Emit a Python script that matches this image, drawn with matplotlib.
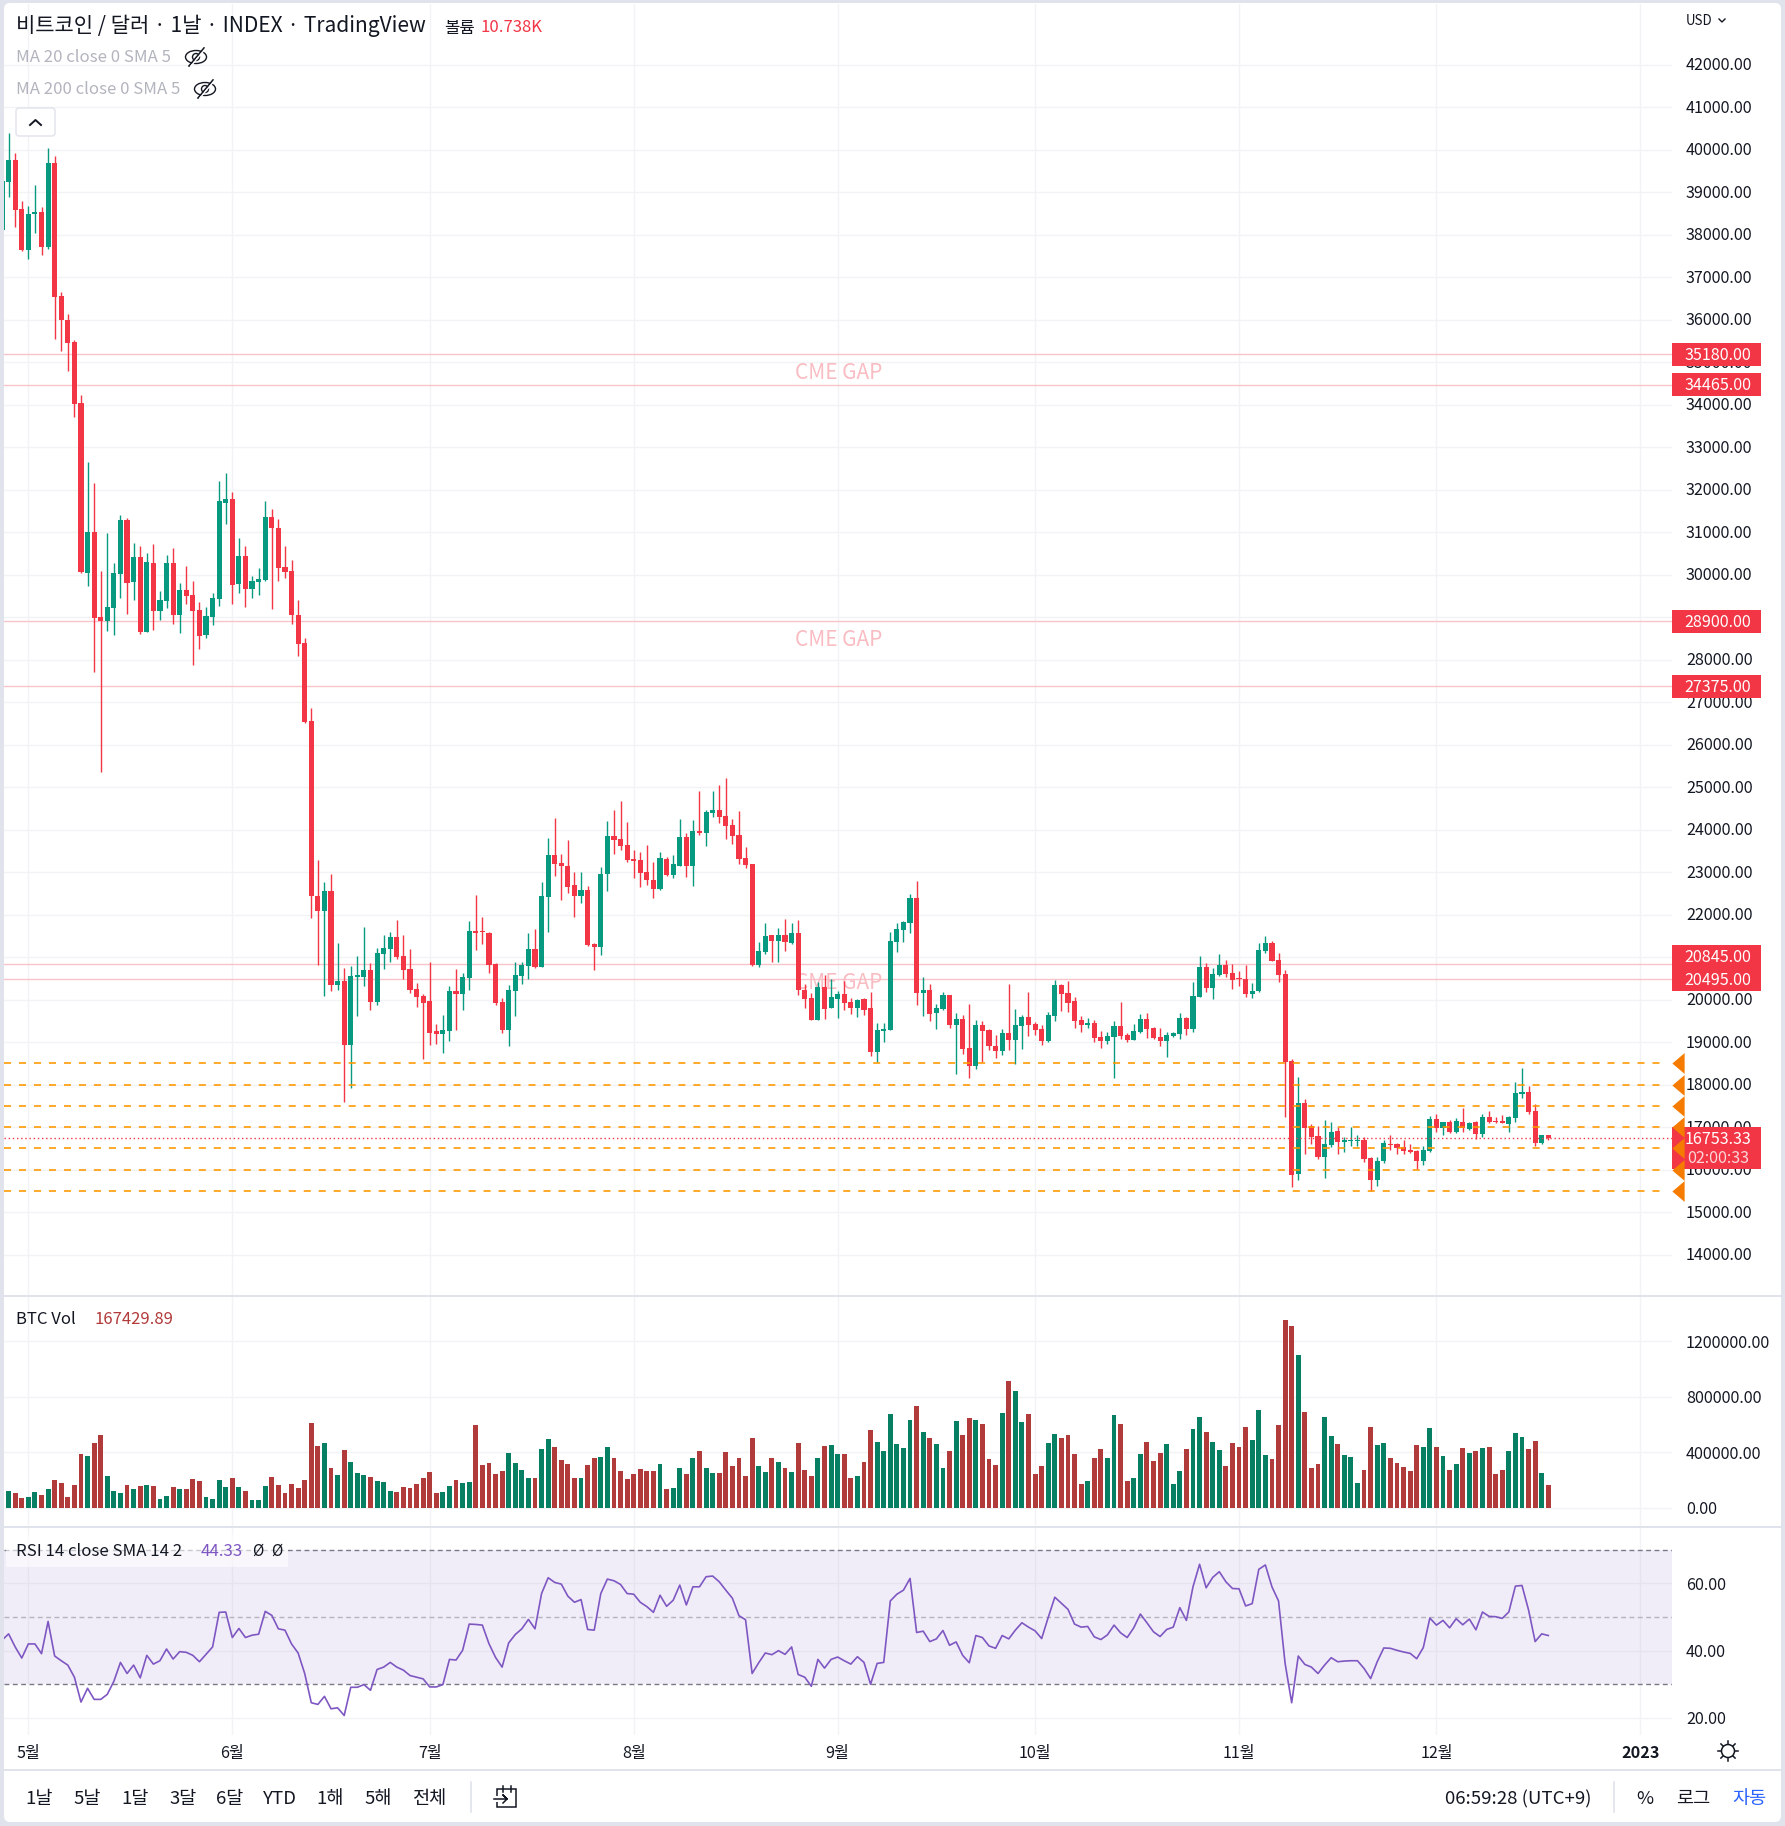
import numpy as np
import matplotlib
matplotlib.use("Agg")
import matplotlib.pyplot as plt
from matplotlib.patches import Rectangle, FancyBboxPatch, Ellipse, Circle
from matplotlib.transforms import ScaledTranslation

plt.rcParams['font.family'] = ['Noto Sans CJK KR', 'DejaVu Sans']

# daily candles, first one is 27 Apr 2022, day 0 = 1 May
days = np.arange(-4, 232)

opens = [38118,39247,39765,38612,37647,38480,38520,37718,39694,36565,
36000,35482,34047,30047,31012,29012,28918,29223,30024,31294,
29835,30424,28659,30282,29153,29388,30282,29059,29647,29530,
29177,28588,29012,29435,31694,31788,29788,30447,29671,29835,
29882,31365,31106,30188,30094,29059,28400,26565,22448,22095,
22565,20353,20447,18942,20541,20541,20706,19953,21083,21200,
21483,21036,20730,20259,20095,19977,19271,19200,19271,20212,
20142,20518,21624,21600,21577,20848,19953,19295,20212,20565,
20800,21200,20777,22424,23412,23224,23153,22706,22448,22589,
21318,21248,22965,23859,23788,23648,23318,23295,23012,22824,
22612,23318,22942,23153,23836,23153,23977,23930,24400,24471,
24330,24118,23883,23342,23200,20824,21130,21530,21389,21530,
21341,21576,20235,20047,19529,20305,19811,20023,20141,19952,
19811,20023,19811,18776,19270,19294,21364,21647,21811,22399,
20164,20235,19694,19788,20117,19411,19552,18870,18447,19411,
19294,18917,18800,19223,19058,19388,19600,19435,19317,19035,
19623,20352,20164,19976,19529,19411,19458,19129,19035,19129,
19388,19176,19058,19246,19552,19341,19129,19035,19152,19200,
19576,19317,20070,20776,20282,20588,20823,20635,20494,20494,
20141,20196,21138,21326,20926,20596,18549,15891,17561,17020,
16785,16291,16573,16902,16644,16667,16667,16691,16267,15749,
16197,16597,16597,16526,16455,16432,16197,16432,17185,16973,
17114,16879,17114,16949,17114,16832,17232,17138,17138,17067,
17208,17773,17820,17373,16620,16808]

highs = [39300,40400,39929,38800,38682,39177,38659,40047,39859,36659,
36141,35530,34235,32659,32165,30094,30988,30282,31412,31320,
30753,30682,30518,30729,29624,30471,30635,29812,30212,29859,
29365,29247,29576,32212,32400,31953,30870,30682,29976,30165,
31741,31553,31318,30682,30353,29412,28518,26871,23295,22777,
22965,21342,20753,20800,21036,21718,20871,21224,21530,21600,
21883,21530,21200,20400,20142,20895,19436,19648,20330,20730,
20636,21859,22471,21953,21600,20871,20048,20353,20895,20895,
21577,21671,22777,23812,24283,23436,23765,23012,23012,22683,
21342,23130,24212,24471,24683,24189,23530,23483,23648,23248,
23483,23365,23412,24259,23930,24236,24918,24471,24918,25059,
25224,24259,24448,23600,23200,21365,21812,21530,21695,21906,
21811,21882,20376,20164,20423,20588,20494,20211,20447,20047,
20023,20047,20188,19458,19458,21599,21811,21858,22494,22799,
20541,20376,19905,20188,20117,19694,19647,19905,19529,19505,
19317,19176,19317,20376,19788,19647,20188,19482,19411,19717,
20470,20376,20447,20070,19623,19576,19529,19270,19246,19505,
19952,19223,19435,19670,19694,19364,19341,19246,19246,19694,
19600,20423,21035,20870,20752,21082,20941,20846,20682,20823,
20400,21326,21491,21373,21091,20691,18596,18173,17655,17067,
17020,17161,17114,16997,16761,16997,16808,16761,16291,16291,
16691,16808,16620,16691,16597,16455,16550,17255,17302,17125,
17161,17208,17444,17114,17138,17302,17373,17232,17279,17255,
18055,18385,17961,17538,16820,16820]

lows = [38100,38878,38173,37608,37420,38047,37530,37671,35553,35271,
34800,33717,30047,29741,27718,25365,28682,28588,29459,29082,
29412,28612,28659,28706,28941,29224,28847,28635,29318,27882,
28259,28518,28824,29271,31200,29318,29576,29247,29459,29529,
29859,29200,29859,29929,28847,28094,26518,21930,20824,20095,
20212,20236,17600,17930,19624,20330,19765,19883,20730,20894,
20965,20495,20165,19836,18612,18942,18965,18754,19036,19295,
19765,20236,21177,21318,20636,19883,19224,18918,19624,20377,
20495,20754,20760,21600,22918,22354,22518,21953,22283,21271,
20706,21060,22565,23436,23530,23248,22871,22659,22706,22400,
22589,22918,22871,23140,22895,22683,23883,23624,24306,24165,
23789,23671,23200,23106,20800,20777,21083,20895,20895,21153,
21317,20117,19811,19529,19510,19552,19800,19576,19764,19670,
19600,19647,18682,18541,19011,19280,21129,21364,21576,19882,
19623,19505,19317,19764,19341,18258,18729,18164,18376,18541,
18823,18635,18705,18823,18494,18847,19152,19176,18941,19011,
19505,19741,19717,19341,19246,19341,19011,18870,18964,18164,
19082,19011,19050,19223,19105,19082,18917,18658,19129,19082,
19176,19246,20060,20188,20023,20564,20541,20258,20329,20070,
20047,20180,21091,20900,20408,17232,15585,15749,16361,16597,
16244,15797,16526,16361,16408,16550,16550,16173,15491,15608,
16150,16455,16361,16361,16400,16008,16102,16420,16879,16808,
16870,16870,16879,16926,16714,16761,17091,17105,17085,16879,
17114,17679,17302,16550,16597,16691]

closes = [39271,39765,38588,37639,38494,38520,37718,39694,36541,36000,
35459,34024,30071,31012,28988,28918,29247,30047,31294,29812,
30424,28659,30306,29153,29412,30282,29059,29647,29506,29153,
28565,29035,29459,31741,31788,29765,30447,29671,29859,29906,
31365,31106,30165,30071,29059,28376,26541,22448,22095,22565,
20353,20447,18942,20565,20565,20706,19953,21106,21224,21483,
21012,20706,20236,20071,19930,19224,19200,19295,20212,20142,
20542,21624,21577,21585,20824,19930,19295,20236,20589,20824,
21200,20777,22448,23412,23200,23153,22659,22448,22589,21295,
21248,22965,23859,23765,23624,23295,23271,22989,22824,22612,
23342,22942,23200,23836,23153,23977,23930,24424,24471,24306,
24095,23859,23318,23177,20824,21153,21507,21389,21530,21365,
21576,20235,20023,19529,20305,19788,20070,20141,19929,19811,
20000,19764,18776,19294,19317,21388,21670,21835,22399,20164,
20235,19670,19811,20117,19411,19552,18846,18447,19411,19270,
18917,18800,19223,19058,19411,19600,19411,19294,19035,19647,
20352,20141,19929,19505,19411,19458,19105,19035,19152,19388,
19152,19058,19270,19552,19317,19105,19035,19176,19223,19576,
19317,20094,20776,20282,20611,20823,20611,20470,20478,20141,
20211,21161,21326,20902,20573,18526,15867,17561,16973,16761,
16291,16596,16879,16644,16691,16691,16691,16244,15749,16197,
16620,16573,16502,16432,16408,16197,16455,17185,16973,17114,
16879,17138,16973,17091,16832,17232,17114,17114,17091,17232,
17796,17820,17349,16620,16808,16753]

# volume in thousands
volume = [137,122,108,72,79,115,94,137,202,180,
79,166,389,374,468,526,230,122,108,166,
137,158,166,158,65,86,151,137,137,209,
194,79,65,202,151,216,151,122,58,58,
158,223,166,108,173,144,202,612,446,468,
288,238,418,331,252,238,223,194,187,122,
115,151,144,173,216,259,108,115,158,202,
180,187,598,310,324,245,266,396,324,274,
216,216,425,497,439,346,317,216,216,310,
360,367,439,360,266,209,245,281,266,266,
317,137,144,288,245,360,410,288,252,252,
403,302,360,230,504,302,259,360,331,288,
259,468,274,230,360,446,454,389,389,216,
230,331,562,475,410,677,461,432,634,734,
547,504,461,288,410,626,526,648,634,605,
353,310,684,914,842,619,677,245,302,468,
533,504,526,389,173,194,360,425,360,670,
605,194,216,389,475,338,396,461,173,266,
425,569,655,547,475,418,302,468,439,583,
490,706,382,353,598,1354,1310,1102,691,288,
317,655,518,461,382,367,180,274,583,454,
468,360,324,295,266,454,439,576,439,374,
274,317,432,396,410,432,439,245,274,410,
540,511,425,482,252,167]

rsi = [43.1,45.0,41.1,37.8,42.0,42.0,39.1,48.7,38.4,37.0,35.7,32.1,24.7,28.8,25.5,25.5,27.0,30.9,36.5,33.2,
35.7,31.9,38.6,36.0,37.0,40.5,37.5,39.7,39.5,38.6,36.7,38.9,41.1,51.4,51.5,43.9,46.6,43.9,44.6,44.9,
51.7,50.5,46.5,46.1,42.0,39.3,33.2,24.5,24.0,26.4,22.7,23.0,20.7,29.1,29.1,29.9,28.2,34.4,35.1,36.5,
35.1,34.2,32.6,32.1,31.6,29.2,29.2,29.9,37.4,37.2,40.1,47.9,47.8,47.6,42.1,38.0,35.1,42.3,44.8,46.5,
49.3,46.5,57.0,61.7,60.3,59.8,56.2,54.4,55.2,46.3,46.1,57.0,61.3,60.8,59.7,57.0,56.8,54.4,53.1,51.4,
56.5,53.2,55.0,59.5,53.6,59.0,59.0,62.0,62.2,60.5,58.0,55.6,50.4,49.2,33.2,36.4,39.3,38.8,40.0,38.9,
41.1,32.9,
32.1,29.4,37.4,34.8,37.4,38.1,37.0,36.0,38.2,36.5,30.0,36.2,36.5,54.8,56.8,58.0,61.5,45.4,45.8,42.7,
43.5,46.0,41.6,42.6,38.6,36.4,44.5,43.9,41.4,40.7,44.5,43.5,46.1,48.3,47.0,45.9,43.6,49.9,55.9,54.1,
52.3,47.9,47.0,47.2,44.1,43.3,44.7,47.6,45.3,43.9,46.8,50.9,48.3,45.6,44.2,46.3,47.0,52.8,49.0,59.0,
65.7,58.7,61.8,63.5,60.5,58.5,58.4,53.3,54.0,64.2,65.5,59.0,54.8,36.2,24.5,38.4,35.9,35.1,33.2,35.7,
37.9,36.7,36.9,37.0,37.0,34.7,31.7,36.7,40.8,40.7,40.1,39.6,39.2,37.6,40.9,49.7,47.6,49.0,46.8,49.5,
47.7,49.4,46.2,51.5,50.2,50.1,49.6,51.5,59.2,59.4,52.1,42.7,45.0,44.5]

gap_levels = [35180, 34465, 28900, 27375, 20845, 20495]
tag_prices = [35180, 34465, 28900, 27375, 21023, 20483]   # two lowest tags get pushed apart
gap_text_prices = [34740, 28460, 20380]
orange_levels = [18500, 18000, 17500, 17000, 16500, 16000, 15500]
last_price = 16753.33

price_ticks = list(range(14000, 43000, 1000))
vol_ticks = [0, 400000, 800000, 1200000]
rsi_ticks = [20, 40, 60]
month_days = [0, 31, 61, 92, 123, 153, 184, 214, 245]
month_labels = ['5월', '6월', '7월', '8월', '9월', '10월', '11월', '12월', '2023']

UP = '#089981'
DOWN = '#f23645'
GRID = '#f2f3f6'
BORDER = '#e0e3eb'
TEXT = '#131722'
W, H = 1785, 1826

fig = plt.figure(figsize=(W/100, H/100), dpi=100, facecolor=BORDER)


def pane(x0, y0, x1, y1, z=1):
    a = fig.add_axes([x0/W, 1-y1/H, (x1-x0)/W, (y1-y0)/H], zorder=z)
    return a


bg = pane(0, 0, W, H, z=0)
bg.set_xlim(0, W)
bg.set_ylim(H, 0)
bg.axis('off')
bg.add_patch(FancyBboxPatch((8, 7), W-8-8, H-7-8, boxstyle='round,pad=4,rounding_size=6', fc='white', ec='none'))

ax = pane(4, 3.6, 1672, 1296.6)
axv = pane(4, 1297, 1672, 1527)
axr = pane(4, 1528, 1672, 1735)

xlim = (-3.7, 249.8)
for a in (ax, axv, axr):
    a.set_facecolor('none')
    a.set_xlim(*xlim)
    a.set_xticks(month_days)
    a.grid(True, color=GRID, lw=1.0)
    a.set_axisbelow(True)
    a.yaxis.tick_right()
    a.tick_params(length=0, labelsize=11.6, labelcolor=TEXT, pad=10, bottom=False)
    for s in a.spines.values():
        s.set_visible(False)
ax.tick_params(labelbottom=False)
axv.tick_params(labelbottom=False)

# price pane
opens, highs, lows, closes = map(np.array, (opens, highs, lows, closes))
up = closes >= opens
colors = np.where(up, UP, DOWN)
ax.set_ylim(13011, 43435)
ax.set_yticks(price_ticks)
ax.set_yticklabels([f'{p}.00' for p in price_ticks])
nudge = ScaledTranslation(0, 1/100, fig.dpi_scale_trans)
for lbl in ax.get_yticklabels():
    lbl.set_transform(lbl.get_transform() + nudge)

for lvl in gap_levels:
    ax.axhline(lvl, color='#f9c4c9', lw=1.0, zorder=1.6)
for p in gap_text_prices:
    ax.text(123.1, p, 'CME GAP', color='#f9bcc2', fontsize=15, ha='center', va='center', zorder=1.7)

ax.vlines(days, lows, highs, colors=colors, lw=1.0, zorder=2)
ax.bar(days, np.maximum(np.abs(closes-opens), 30), bottom=np.minimum(opens, closes), width=0.78, color=colors, zorder=2.1)

ax.hlines(orange_levels, xlim[0], 249.0, colors='#ff9800', lw=1.3, linestyles=[(0, (3.9, 4.4))], alpha=0.9, zorder=2.3)
ax.axhline(last_price, color=DOWN, lw=1, ls=(0, (1, 2)), zorder=2.2)

# price tags sit on the axis, over the tick labels
yt = ax.get_yaxis_transform()
tag_w = 89/1668
tag_h = 23*23.53
for lvl, pos in zip(gap_levels, tag_prices):
    ax.add_patch(Rectangle((1.0, pos-tag_h/2), tag_w, tag_h, transform=yt, fc=DOWN, ec='none', clip_on=False, zorder=4))
    ax.text(1+46/1668, pos-25, f'{lvl}.00', transform=yt, color='white', fontsize=11.6, ha='center', va='center', zorder=5, clip_on=False)
ax.add_patch(Rectangle((1.0, 16022), tag_w, 989, transform=yt, fc=DOWN, ec='none', clip_on=False, zorder=4))
ax.text(1+46/1668, 16715, f'{last_price:.2f}', transform=yt, color='white', fontsize=11.6, ha='center', va='center', zorder=5)
ax.text(1+46/1668, 16270, '02:00:33', transform=yt, color='#fbd5d9', fontsize=11.6, ha='center', va='center', zorder=5)
ax.plot([1+6/1668]*len(orange_levels), orange_levels, transform=yt, ls='none',
        marker=[(1, -1.7), (1, 1.7), (-1, 0)], ms=15, color='#f57c00', mew=0, clip_on=False, zorder=6)

# volume pane
axv.bar(days, np.array(volume)*1000, width=0.74, color=np.where(up, '#067f62', '#b13a3a'), zorder=2)
axv.set_ylim(-137000, 1519000)
axv.set_yticks(vol_ticks)
axv.set_yticklabels([f'{v}.00' for v in vol_ticks])

# rsi pane
axr.set_ylim(14.9, 76.5)
axr.set_yticks(rsi_ticks)
axr.set_yticklabels([f'{v}.00' for v in rsi_ticks])
axr.axhspan(30, 70, color='#7e57c2', alpha=0.1, lw=0, zorder=1)
for lvl, c in ((70, '#787b86'), (50, '#b5b3bf'), (30, '#787b86')):
    axr.axhline(lvl, color=c, lw=1, ls=(0, (3.5, 2.5)), zorder=1.8)
axr.plot(days, rsi, color='#7e57c2', lw=1.2, zorder=3)
axr.set_xticks(month_days)
axr.set_xticklabels(month_labels)
axr.tick_params(axis='x', pad=7, labelsize=11.6, labelbottom=True, labeltop=False, labelcolor=TEXT)
axr.get_xticklabels()[-1].set_fontweight('bold')

# chrome drawn in pixel coordinates
top = pane(0, 0, W, H, z=5)
top.set_xlim(0, W)
top.set_ylim(H, 0)
top.axis('off')
top.patch.set_alpha(0)

for y in (1296.5, 1527.5, 1770):
    top.plot([4, 1782], [y, y], color=BORDER, lw=1.4)

top.text(16, 26, '비트코인 / 달러 · 1날 · INDEX · TradingView', fontsize=15.1, color=TEXT, va='center')
top.text(444, 28, '볼륨', fontsize=12, color=TEXT, va='center')
top.text(480, 28, '10.738K', fontsize=12, color=DOWN, va='center')
top.text(16, 58, 'MA 20 close 0 SMA 5', fontsize=12.1, color='#b2b5be', va='center')
top.text(16, 90, 'MA 200 close 0 SMA 5', fontsize=12.1, color='#b2b5be', va='center')


def eye(x, y):
    top.add_patch(Ellipse((x, y), 21, 13, fc='none', ec=TEXT, lw=1))
    top.add_patch(Circle((x, y), 3.5, fc='none', ec=TEXT, lw=1))
    top.plot([x-7, x+8], [y+9, y-9], color=TEXT, lw=1.2)
    top.plot([x-5, x+10], [y+9, y-9], color='white', lw=1)


eye(196, 57)
eye(205, 89)
top.add_patch(FancyBboxPatch((18, 110), 35, 24, boxstyle='round,pad=2,rounding_size=3', fc='white', ec=BORDER, lw=1))
top.plot([30, 35.5, 41], [125, 120, 125], color=TEXT, lw=1.4)

top.text(1686, 21, 'USD', fontsize=9.6, color=TEXT, va='center')
top.plot([1719, 1722, 1725], [19, 22, 19], color=TEXT, lw=1)

top.text(16, 1320, 'BTC Vol', fontsize=12, color=TEXT, va='center')
top.text(94, 1320, '167429.89', fontsize=12, color='#b23a3a', va='center')

top.add_patch(Rectangle((6, 1535), 282, 32, fc='white', alpha=0.6, ec='none'))
top.text(16, 1551, 'RSI 14 close SMA 14 2', fontsize=12.1, color=TEXT, va='center')
top.text(201, 1551, '44.33', fontsize=12.1, color='#7e57c2', va='center')
top.text(258, 1551, 'Ø', fontsize=11, color=TEXT, va='center', ha='center')
top.text(277, 1551, 'Ø', fontsize=11, color=TEXT, va='center', ha='center')

# sun icon next to the date axis
top.add_patch(Circle((1728, 1751), 6.5, fc='none', ec=TEXT, lw=1.1))
for t in np.arange(8)*np.pi/4:
    top.plot([1728+7*np.cos(t), 1728+10*np.cos(t)], [1751+7*np.sin(t), 1751+10*np.sin(t)], color=TEXT, lw=1.1)

buttons = ['1날', '5날', '1달', '3달', '6달', 'YTD', '1해', '5해', '전체']
button_x = [39, 87, 135, 183, 230, 280, 330, 378, 430]
for s, x in zip(buttons, button_x):
    top.text(x, 1799, s, fontsize=13.4, color=TEXT, ha='center', va='center')
top.plot([471, 471], [1782, 1812], color=BORDER, lw=1.2)
top.add_patch(Rectangle((497, 1789), 19, 18, fc='none', ec=TEXT, lw=1.1))
top.plot([503, 503], [1786, 1792], color=TEXT, lw=1.1)
top.plot([511, 511], [1786, 1792], color=TEXT, lw=1.1)
top.add_patch(Rectangle((490, 1796), 12, 6, fc='white', ec='none'))
top.plot([494, 507, 503, 507, 503], [1799, 1799, 1795, 1799, 1803], color=TEXT, lw=1.1)

top.text(1518, 1799, '06:59:28 (UTC+9)', fontsize=13.4, color=TEXT, ha='center', va='center')
top.plot([1614, 1614], [1782, 1812], color=BORDER, lw=1.2)
top.text(1645, 1799, '%', fontsize=13.4, color=TEXT, ha='center', va='center')
top.text(1693, 1799, '로그', fontsize=13.4, color=TEXT, ha='center', va='center')
top.text(1749, 1799, '자동', fontsize=13.4, color='#2962ff', ha='center', va='center')

fig.savefig('out.png', dpi=100, facecolor=BORDER)
